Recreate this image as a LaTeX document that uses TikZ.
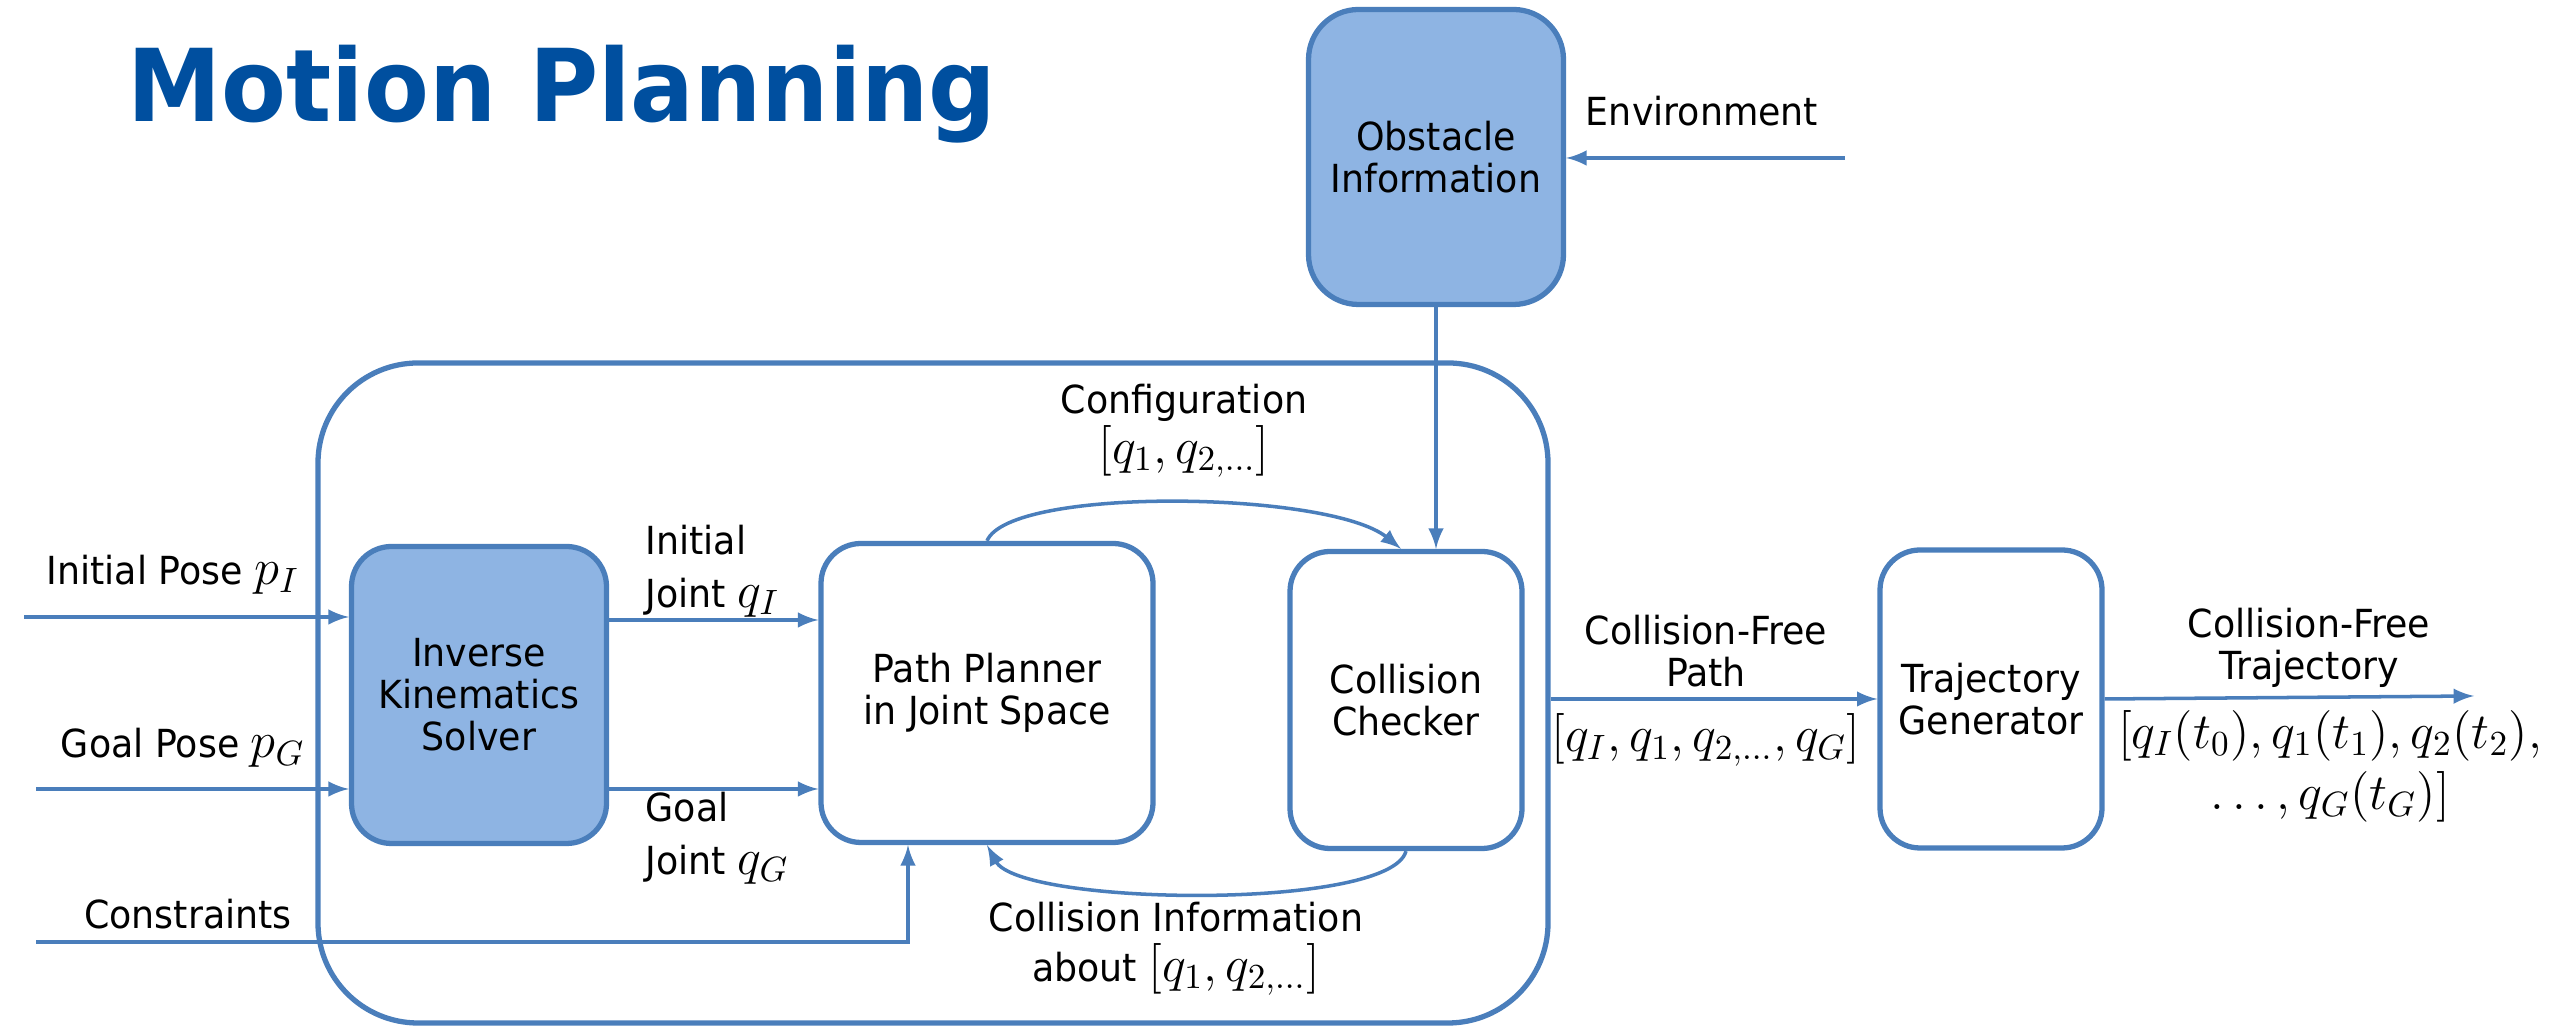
\documentclass[tikz,border=0pt]{standalone}
\usepackage{fontspec}
\setmainfont[FakeStretch=0.94]{DejaVu Sans}
\DeclareMathSizes{11}{13.5}{9.8}{7.5}
\usetikzlibrary{positioning,arrows}
\definecolor{lineblue}{RGB}{74,126,187}
\definecolor{fillblue}{RGB}{142,180,227}
\definecolor{titleblue}{RGB}{0,79,159}

\begin{document}
\begin{tikzpicture}[
     % define styles
     block/.style={
         draw=lineblue,
         line width=1.5pt,
         rounded corners=0.4cm,
         align=center,
         inner sep=0pt,
         font=\fontsize{11}{12}\selectfont
     },
     shaded/.style={
         block,
         fill=fillblue
     },
     flow/.style={
         draw=lineblue,
         line width=1pt,
         ->
     },
     lbl/.style={
         align=center,
         inner sep=0pt,
         font=\fontsize{11}{12}\selectfont
     },
     >=latex
]
\useasboundingbox (0,0) rectangle (25.6,10.31);

% title
\node[anchor=base west, inner sep=0pt, text=titleblue,
      font=\fontsize{28.6}{32}\selectfont\bfseries] (title) at (1.27,9.09) {Motion Planning};

% outer frame of the planner
\node[block, rounded corners=1cm, minimum width=12.3cm, minimum height=6.6cm] (frame) at (9.33,3.38) {};

% blocks
\node[shaded, rounded corners=0.5cm, minimum width=2.55cm, minimum height=2.95cm] (obst) at (14.36,8.74) {Obstacle\\Information};
\node[shaded, minimum width=2.55cm, minimum height=2.97cm] (ik) at (4.79,3.36) {Inverse\\Kinematics\\Solver};
\node[block, minimum width=3.32cm, minimum height=2.99cm] (pp) at (9.87,3.38) {Path Planner\\in Joint Space};
\node[block, minimum width=2.32cm, minimum height=2.97cm] (cc) at (14.06,3.31) {Collision\\Checker};
\node[block, minimum width=2.22cm, minimum height=2.98cm] (tg) at (19.91,3.32) {Trajectory\\Generator};

% free ends
\coordinate (envin) at (18.45,8.73);
\coordinate (ipin) at (0.24,4.14);
\coordinate (gpin) at (0.36,2.42);
\coordinate (csin) at (0.36,0.89);
\coordinate (trout) at (24.74,3.35);

% inputs
\draw[flow] (envin) -- (envin -| obst.east);
\draw[flow] (ipin) -- (ipin -| ik.west);
\draw[flow] (gpin) -- (gpin -| ik.west);
\draw[flow] (csin) -| ([xshift=-0.79cm]pp.south);

% inside the planner
\draw[flow] (ik.east |- 0,4.11) -- (pp.west |- 0,4.11);
\draw[flow] (ik.east |- gpin) -- (pp.west |- gpin);
\draw[flow] (pp.north) .. controls (10.1,5.45) and (13.3,5.4) .. ([xshift=-0.05cm]cc.north);
\draw[flow] (cc.south) .. controls (13.9,1.2) and (10.2,1.25) .. (pp.south);
\draw[flow] (obst.south) -- (obst.south |- cc.north);

% outputs
\draw[flow] (tg.west -| frame.east) -- (tg.west);
\draw[flow] (tg.east) -- (trout);

% labels
\node[lbl] (envlbl) at (17.02,9.2) {Environment};
\node[lbl] (iplbl) at (1.73,4.56) {Initial Pose $p_I$};
\node[lbl] (gplbl) at (1.83,2.83) {Goal Pose $p_G$};
\node[lbl] (cslbl) at (1.88,1.17) {Constraints};
\node[lbl, align=left, anchor=west] (ijlbl) at (6.45,4.6) {Initial\\[3pt]Joint $q_I$};
\node[lbl, align=left, anchor=west] (gjlbl) at (6.45,1.93) {Goal\\[3pt]Joint $q_G$};
\node[lbl] (cfglbl) at (11.84,6.0) {Configuration\\$[q_1,q_{2,\ldots}]$};
\node[lbl] (cilbl) at (11.76,0.82) {Collision Information\\[2pt]about $[q_1,q_{2,\ldots}]$};
\node[lbl] (pathlbl) at (17.06,3.8) {Collision-Free\\Path};
\node[lbl] (pathval) at (17.06,2.91) {$[q_I,q_1,q_{2,\ldots},q_G]$};
\node[lbl] (trjlbl) at (23.09,3.83) {Collision-Free\\Trajectory};
\node[lbl] (trjval) at (23.3,2.65) {$[q_I(t_0),q_1(t_1),q_2(t_2),$\\[2pt]$\ldots,q_G(t_G)]$};
\end{tikzpicture}
\end{document}
